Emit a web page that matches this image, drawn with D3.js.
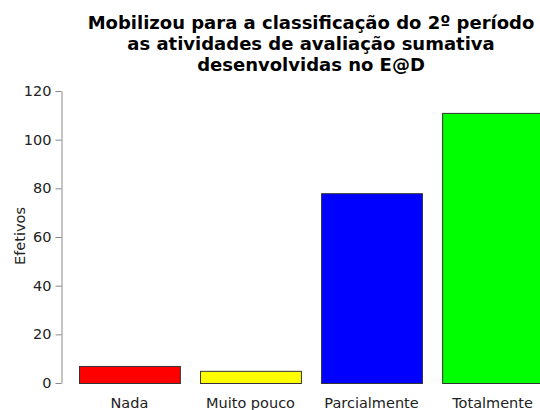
<!DOCTYPE html>
<html>
<head>
<meta charset="utf-8">
<script src="https://cdn.jsdelivr.net/npm/d3@7"></script>
<style>
  body { margin: 0; background: #fff; }
  text { font-family: "DejaVu Sans", sans-serif; }
</style>
</head>
<body>
<div id="chart"></div>
<script>
// Data
var categories = ["Nada", "Muito pouco", "Parcialmente", "Totalmente"];
var values = [7, 5, 78, 111];
var colors = ["#ff0000", "#ffff00", "#0000ff", "#00ff00"];
var yTicks = [0, 20, 40, 60, 80, 100, 120];
var titleLines = [
    "Mobilizou para a classificação do 2º período",
    "as atividades de avaliação sumativa",
    "desenvolvidas no E@D"
];

var svgWidth = 540;
var svgHeight = 410;

var svg = d3.select("#chart")
    .append("svg")
    .attr("width", svgWidth)
    .attr("height", svgHeight);

// Scales
var xScale = d3.scaleBand()
    .domain(categories)
    .range([79, 543])
    .paddingInner(0.2 / 1.2)
    .paddingOuter(0);

var yScale = d3.scaleLinear()
    .domain([0, 120])
    .range([383, 91]);

// Bars
svg.selectAll("rect.bar")
    .data(values)
    .enter()
    .append("rect")
    .attr("class", "bar")
    .attr("x", (d, i) => xScale(categories[i]) + 0.5)
    .attr("y", d => yScale(d) + 0.5)
    .attr("width", xScale.bandwidth())
    .attr("height", d => yScale(0) - yScale(d))
    .attr("fill", (d, i) => colors[i])
    .attr("stroke", "#333")
    .attr("stroke-width", 1);

// Y axis
var leftAxis = d3.axisLeft(yScale)
    .tickValues(yTicks)
    .tickSize(6)
    .tickSizeOuter(0)
    .tickPadding(4);

var yAxis = svg.append("g")
    .attr("transform", "translate(61.5, 0)")
    .call(leftAxis);
yAxis.select(".domain").attr("stroke", "#888");
yAxis.selectAll(".tick line").attr("stroke", "#888");
yAxis.selectAll(".tick text")
    .attr("font-size", 14.5)
    .attr("fill", "#222")
    .attr("font-family", "DejaVu Sans, sans-serif");

// X labels
svg.selectAll("text.xlabel")
    .data(categories)
    .enter()
    .append("text")
    .attr("class", "xlabel")
    .attr("x", d => xScale(d) + xScale.bandwidth() / 2)
    .attr("y", 408)
    .attr("text-anchor", "middle")
    .attr("font-size", 14.5)
    .attr("fill", "#222")
    .text(d => d);

// Y label
svg.append("text")
    .attr("transform", "translate(25, 236) rotate(-90)")
    .attr("text-anchor", "middle")
    .attr("font-size", 14.5)
    .attr("fill", "#222")
    .text("Efetivos");

// Title
svg.selectAll("text.title")
    .data(titleLines)
    .enter()
    .append("text")
    .attr("class", "title")
    .attr("x", 311)
    .attr("y", (d, i) => 29 + i * 21)
    .attr("text-anchor", "middle")
    .attr("font-size", 18)
    .attr("font-weight", "bold")
    .attr("fill", "#000")
    .text(d => d);
</script>
</body>
</html>
